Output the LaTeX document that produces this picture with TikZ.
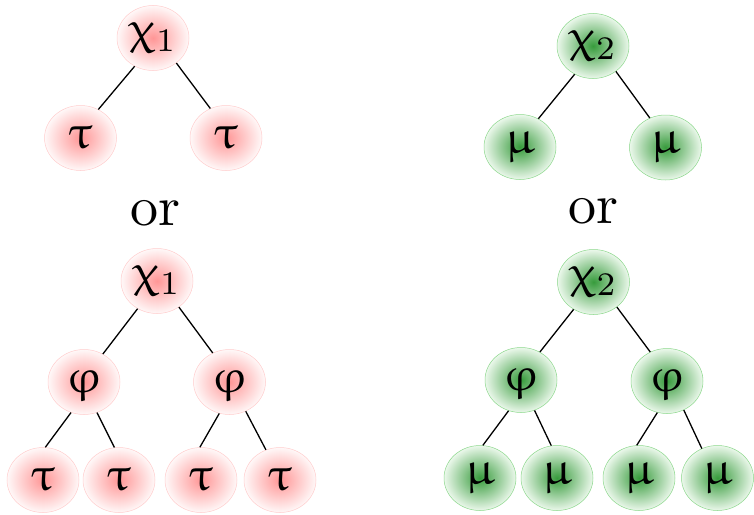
\documentclass[tikz,border=0pt]{standalone}
\usepackage[Euler]{upgreek}
\usetikzlibrary{shapes.geometric}
\definecolor{rin}{RGB}{255,150,150}
\definecolor{rout}{RGB}{255,248,248}
\definecolor{rbd}{RGB}{255,205,205}
\definecolor{gin}{RGB}{55,155,60}
\definecolor{gout}{RGB}{235,248,235}
\definecolor{gbd}{RGB}{140,215,140}
\newcommand{\gk}[1]{\scalebox{4.7}{$#1$}}
\font\orfont=cmr10 at 56pt
\tikzset{
 basenode/.style={ellipse, minimum width=72pt, minimum height=65pt, inner sep=0pt, line width=0.5pt},
 rnode/.style={basenode, draw=rbd, inner color=rin, outer color=rout},
 gnode/.style={basenode, draw=gbd, inner color=gin, outer color=gout},
 link/.style={draw=black, line width=1.3pt},
 ortext/.style={font=\orfont, anchor=base, inner sep=0pt}
}
\begin{document}
\begin{tikzpicture}[x=1pt,y=-1pt]
\useasboundingbox (0,0) rectangle (754,514);
% top red
\node[rnode] (a0) at (153,38) {\gk{\upchi_1}};
\node[rnode] (a1) at (80.5,138) {\gk{\uptau}};
\node[rnode] (a2) at (226,138) {\gk{\uptau}};
% top green
\node[gnode] (b0) at (593,46) {\gk{\upchi_2}};
\node[gnode] (b1) at (520,147) {\gk{\upmu}};
\node[gnode] (b2) at (665.5,147.5) {\gk{\upmu}};
% or
\node[ortext] (or1) at (155.5,225) {or};
\node[ortext] (or2) at (593,223) {or};
% bottom red
\node[rnode] (c0) at (157,281) {\gk{\upchi_1}};
\node[rnode] (c1) at (84,382) {\gk{\upvarphi}};
\node[rnode] (c2) at (229.5,382) {\gk{\upvarphi}};
\node[rnode] (c3) at (43,480) {\gk{\uptau}};
\node[rnode] (c4) at (119,480) {\gk{\uptau}};
\node[rnode] (c5) at (201,480) {\gk{\uptau}};
\node[rnode] (c6) at (280,480) {\gk{\uptau}};
% bottom green
\node[gnode] (d0) at (593.5,282) {\gk{\upchi_2}};
\node[gnode] (d1) at (521,380) {\gk{\upvarphi}};
\node[gnode] (d2) at (667,381) {\gk{\upvarphi}};
\node[gnode] (d3) at (480,478) {\gk{\upmu}};
\node[gnode] (d4) at (557,478) {\gk{\upmu}};
\node[gnode] (d5) at (639,478) {\gk{\upmu}};
\node[gnode] (d6) at (717.5,478) {\gk{\upmu}};
% edges
\draw[link] (a0.-123) -- (a1.58);
\draw[link] (a0.-47) -- (a2.118);
\draw[link] (b0.-123) -- (b1.57);
\draw[link] (b0.-48) -- (b2.118);
\draw[link] (c0.-125) -- (c1.56);
\draw[link] (c0.-50) -- (c2.120);
\draw[link] (c1.-113) -- (c3.86);
\draw[link] (c1.-67) -- (c4.98);
\draw[link] (c2.-108) -- (c5.92);
\draw[link] (c2.-61) -- (c6.115);
\draw[link] (d0.-126) -- (d1.56);
\draw[link] (d0.-47) -- (d2.120);
\draw[link] (d1.-112) -- (d3.85);
\draw[link] (d1.-66) -- (d4.100);
\draw[link] (d2.-107) -- (d5.94);
\draw[link] (d2.-60) -- (d6.118);
\end{tikzpicture}
\end{document}
